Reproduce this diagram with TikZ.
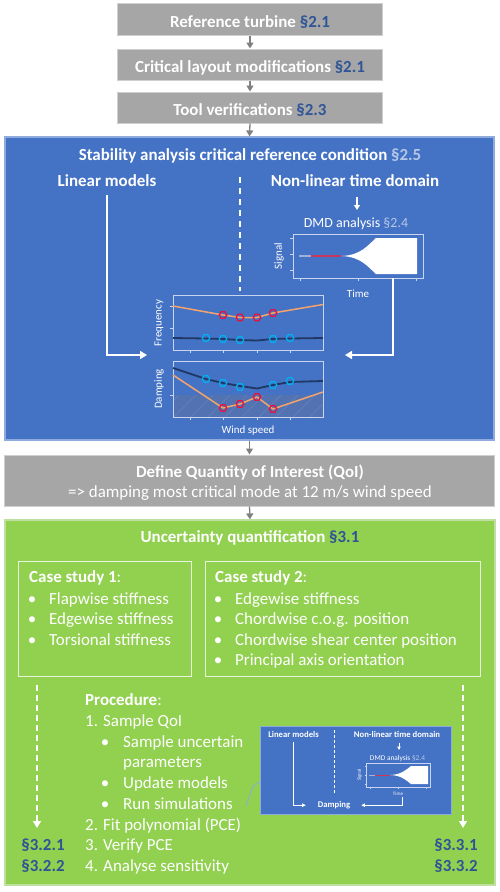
\documentclass[tikz,border=0pt]{standalone}
\usepackage{fontspec}
\setmainfont{Carlito}
\usetikzlibrary{arrows.meta,shapes.geometric}
\definecolor{gbox}{HTML}{A6A6A6}
\definecolor{gborder}{HTML}{CFCFCF}
\definecolor{bfill}{HTML}{4472C4}
\definecolor{bborder}{HTML}{8FAADC}
\definecolor{gnfill}{HTML}{92D050}
\definecolor{gnborder}{HTML}{BEDFA0}
\definecolor{csborder}{HTML}{E8F3DE}
\definecolor{refblue}{HTML}{2F5597}
\definecolor{reflight}{HTML}{B4C7E7}
\definecolor{arrgrey}{HTML}{808080}
\definecolor{orangeln}{HTML}{F4A46A}
\definecolor{navyln}{HTML}{1F3864}
\definecolor{cyanmk}{HTML}{00B0F0}
\definecolor{redmk}{HTML}{E8103C}
\definecolor{axisc}{HTML}{C9D5EE}
\definecolor{hatchfill}{HTML}{5272B2}
\definecolor{hatchln}{HTML}{6783BE}
\definecolor{sigred}{HTML}{C8385A}
\definecolor{sigflat}{HTML}{9DB1DA}
\newcommand\myfM{\fontsize{17}{20}\selectfont}
\newcommand\myfS{\fontsize{14}{16}\selectfont}
\newcommand\myfA{\fontsize{11}{13}\selectfont}
\newcommand\myfT{\fontsize{8.7}{10}\selectfont}
\newcommand\myfTT{\fontsize{7.4}{9}\selectfont}
\newcommand\myfTTT{\fontsize{5}{6}\selectfont}
\begin{document}
\begin{tikzpicture}[x=1bp,y=-1bp,
  greybox/.style={draw=gborder, fill=gbox, line width=1bp, inner sep=0},
  bluebox/.style={draw=bborder, fill=bfill, line width=1.2bp, inner sep=0},
  greenbox/.style={draw=gnborder, fill=gnfill, line width=1.2bp, inner sep=0},
  csbox/.style={draw=csborder, line width=1bp, inner sep=0},
  minibox/.style={draw=bborder, fill=bfill, line width=1bp, inner sep=0},
  pframe/.style={draw=axisc, line width=0.8bp, inner sep=0},
  lbl/.style={text=white, inner sep=0, font=\myfM},
  blbl/.style={text=white, inner sep=0, font=\myfM\bfseries},
  garr/.style={draw=arrgrey, line width=1.3bp, -{Triangle[width=7bp,length=6bp]}},
  warr/.style={draw=white, line width=1.5bp, -{Triangle[width=8bp,length=7bp]}},
  wdash/.style={draw=white, line width=1.5bp, dash pattern=on 6bp off 5bp},
  wdarr/.style={draw=white, line width=1.5bp, dash pattern=on 6bp off 4bp, -{Triangle[width=8bp,length=7bp]}},
  mwarr/.style={draw=white, line width=0.6bp, -{Triangle[width=3.5bp,length=3.5bp]}},
  hexr/.style={regular polygon, regular polygon sides=6, minimum size=7.5bp, inner sep=0, draw=redmk, line width=1.3bp},
  hexc/.style={regular polygon, regular polygon sides=6, minimum size=7.5bp, inner sep=0, draw=cyanmk, line width=1.3bp},
  tick/.style={draw=axisc, line width=0.8bp}
]
\useasboundingbox (0,0) rectangle (500,892);

% ---------- top grey boxes ----------
\node[greybox, minimum width=264bp, minimum height=31bp] (b1) at (250,19.5) {};
\node[greybox, minimum width=264bp, minimum height=31bp] (b2) at (250,64.5) {};
\node[greybox, minimum width=264bp, minimum height=31bp] (b3) at (250,107.5) {};
\node[blbl, anchor=base] (t1) at (250,27) {Reference turbine \textcolor{refblue}{§2.1}};
\node[blbl, anchor=base] (t2) at (250,72) {Critical layout modifications \textcolor{refblue}{§2.1}};
\node[blbl, anchor=base] (t3) at (250,115) {Tool verifications \textcolor{refblue}{§2.3}};

% ---------- blue region ----------
\node[bluebox, minimum width=489bp, minimum height=303bp] (blue) at (249.5,288.5) {};
\draw[garr] (b1.south) -- (b2.north);
\draw[garr] (b2.south) -- (b3.north);
\draw[garr] (b3.south) -- (blue.north);

\node[blbl, anchor=base] (stab) at (250,160) {Stability analysis critical reference condition \textcolor{reflight}{§2.5}};
\node[blbl, anchor=base] (lin) at (107,186) {Linear models};
\node[blbl, anchor=base] (nonlin) at (355,186) {Non-linear time domain};
\coordinate (dtop) at (240,177);
\coordinate (dbot) at (240,291);
\draw[wdash] (dtop) -- (dbot);
\node[lbl, anchor=base, font=\myfS] (dmd) at (356,227) {DMD analysis \textcolor{reflight}{§2.4}};
\draw[warr, line width=1.2bp, -{Triangle[width=6bp,length=5bp]}] (357,197) -- (357,210);

% signal plot
\node[pframe, minimum width=130bp, minimum height=44bp] (sig) at (358,256) {};
\foreach \yy in {238,254,270} \draw[tick] (293,\yy) -- (290,\yy);
\foreach \xx in {300,358,416} \draw[tick] (\xx,278) -- (\xx,281);
\fill[white] (341,256) .. controls (361,255.5) and (368,245) .. (376,238) -- (417,238) -- (417,274) -- (376,274) .. controls (368,267) and (361,256.5) .. (341,256) -- cycle;
\draw[sigflat, line width=1.2bp] (299,256) -- (311,256);
\draw[sigred, line width=1.5bp] (311,256) -- (341,256);
\node[lbl, font=\myfA, rotate=90] (siglab) at (279,256) {Signal};
\node[lbl, font=\myfA, anchor=base] (timelab) at (358,297) {Time};

% frequency plot
\node[pframe, minimum width=150bp, minimum height=55bp] (freq) at (248,322.5) {};
\foreach \yy in {306,328} \draw[tick] (173,\yy) -- (170,\yy);
\foreach \xx in {190,223,257,290} \draw[tick] (\xx,350) -- (\xx,353);
\draw[orangeln, line width=1.5bp] (173,306) -- (223,315) -- (240,317.5) -- (257,317.5) -- (273,313) -- (323,304.5);
\draw[navyln, line width=1.8bp] (173,338) -- (206,338.5) -- (223,339) -- (240,340) -- (257,340.5) -- (273,339) -- (290,338.5) -- (323,338);
\foreach \xx/\yy [count=\i] in {223/315,240/317.5,257/317.5,273/313} \node[hexr] (fr\i) at (\xx,\yy) {};
\foreach \xx/\yy [count=\i] in {206/338,223/339,240/340,273/339,290/338} \node[hexc] (fc\i) at (\xx,\yy) {};
\node[lbl, font=\myfA, rotate=90] (freqlab) at (159,323) {Frequency};

% damping plot
\begin{scope}
\clip (173,395) rectangle (323,417);
\fill[hatchfill] (173,395) rectangle (323,417);
\foreach \xx in {140,157,...,340} \draw[hatchln, line width=0.5bp] (\xx,417) -- (\xx+22,395);
\end{scope}
\node[pframe, minimum width=150bp, minimum height=56bp] (damp) at (248,389) {};
\foreach \yy in {395} \draw[tick] (173,\yy) -- (170,\yy);
\foreach \xx in {190,223,257,290} \draw[tick] (\xx,417) -- (\xx,420);
\draw[navyln, line width=1.8bp] (173,368) -- (206,379) -- (223,383) -- (240,386) -- (257,388.5) -- (273,385) -- (290,382) -- (323,381);
\draw[orangeln, line width=1.5bp] (173,375) -- (223,408) -- (240,404) -- (257,397) -- (273,409) -- (323,392);
\foreach \xx/\yy [count=\i] in {206/379,223/383,240/387,273/385,290/381} \node[hexc] (dc\i) at (\xx,\yy) {};
\foreach \xx/\yy [count=\i] in {223/408,240/404,257/397,273/409} \node[hexr] (dr\i) at (\xx,\yy) {};
\node[lbl, font=\myfA, rotate=90] (damplab) at (159,389) {Damping};
\node[lbl, font=\myfA, anchor=base] (windlab) at (248,433) {Wind speed};

% connectors into plots
\coordinate (linend) at (147,355);
\coordinate (nlend) at (345,355);
\draw[warr] ([yshift=-9bp]lin.south) |- (linend);
\draw[warr] ([xshift=35bp]sig.south) |- (nlend);

% ---------- QoI box ----------
\node[greybox, minimum width=489bp, minimum height=51bp] (qoi) at (249.5,480.5) {};
\draw[garr] (blue.south) -- (qoi.north);
\node[blbl, anchor=base] (qoit) at (250,477) {Define Quantity of Interest (QoI)};
\node[lbl, anchor=base] (qoid) at (250,497) {=> damping most critical mode at 12 m/s wind speed};

% ---------- green region ----------
\node[greenbox, minimum width=490bp, minimum height=365bp] (green) at (250,702.5) {};
\draw[garr] (qoi.south) -- (green.north);
\node[blbl, anchor=base] (uq) at (250,542) {Uncertainty quantification \textcolor{refblue}{§3.1}};

\node[csbox, minimum width=172bp, minimum height=115bp] (cs1) at (105,618.5) {};
\node[csbox, minimum width=275bp, minimum height=115bp] (cs2) at (342.5,618.5) {};
\node[lbl, anchor=base west] (cs1t) at (29,582.5) {\textbf{Case study 1}:};
\foreach \t [count=\i] in {Flapwise stiffness, Edgewise stiffness, Torsional stiffness} {
  \node[lbl, anchor=base] (cs1b\i) at (32,{583.4+20.6*\i}) {•};
  \node[lbl, anchor=base west] (cs1i\i) at (49,{583.4+20.6*\i}) {\t};
}
\node[lbl, anchor=base west] (cs2t) at (215,582.5) {\textbf{Case study 2}:};
\foreach \t [count=\i] in {Edgewise stiffness, Chordwise c.o.g. position, Chordwise shear center position, Principal axis orientation} {
  \node[lbl, anchor=base] (cs2b\i) at (218,{583.4+20.6*\i}) {•};
  \node[lbl, anchor=base west] (cs2i\i) at (235,{583.4+20.6*\i}) {\t};
}

% procedure
\node[lbl, anchor=base west] (proc) at (85,705) {\textbf{Procedure}:};
\node[lbl, anchor=base west] (p1n) at (85,726.5) {1.};
\node[lbl, anchor=base west] (p1) at (103,726.5) {Sample QoI};
\node[lbl, anchor=base] (p1b1) at (105,747) {•};
\node[lbl, anchor=base west] (p1s1) at (123,747) {Sample uncertain};
\node[lbl, anchor=base west] (p1s1b) at (123,767.5) {parameters};
\node[lbl, anchor=base] (p1b2) at (105,788.3) {•};
\node[lbl, anchor=base west] (p1s2) at (123,788.3) {Update models};
\node[lbl, anchor=base] (p1b3) at (105,809) {•};
\node[lbl, anchor=base west] (p1s3) at (123,809) {Run simulations};
\node[lbl, anchor=base west] (p2n) at (85,830) {2.};
\node[lbl, anchor=base west] (p2) at (103,830) {Fit polynomial (PCE)};
\node[lbl, anchor=base west] (p3n) at (85,850.7) {3.};
\node[lbl, anchor=base west] (p3) at (103,850.7) {Verify PCE};
\node[lbl, anchor=base west] (p4n) at (85,871.7) {4.};
\node[lbl, anchor=base west] (p4) at (103,871.7) {Analyse sensitivity};

% section refs and dashed arrows
\node[anchor=base, inner sep=0, text=refblue, font=\myfM\bfseries] (s321) at (43,850.7) {§3.2.1};
\node[anchor=base, inner sep=0, text=refblue, font=\myfM\bfseries] (s322) at (43,871.7) {§3.2.2};
\node[anchor=base, inner sep=0, text=refblue, font=\myfM\bfseries] (s331) at (456,850.7) {§3.3.1};
\node[anchor=base, inner sep=0, text=refblue, font=\myfM\bfseries] (s332) at (456,871.7) {§3.3.2};
\coordinate (l1a) at (37,685);
\coordinate (l1b) at (37,828);
\coordinate (l2a) at (463,685);
\coordinate (l2b) at (463,828);
\draw[wdarr] (l1a) -- (l1b);
\draw[wdarr] (l2a) -- (l2b);

% ---------- mini diagram ----------
\node[minibox, minimum width=191bp, minimum height=88bp] (mini) at (355.5,770) {};
\coordinate (cA) at (246,806);
\coordinate (cB) at (253,786);
\coordinate (cC) at (260,782);
\draw[bborder, line width=0.8bp] (cA) -- (cB) -- (cC);
\node[anchor=base, inner sep=0, text=white, font=\myfT\bfseries] (mlin) at (293.5,737) {Linear models};
\node[anchor=base, inner sep=0, text=white, font=\myfT\bfseries] (mnl) at (397,737) {Non-linear time domain};
\draw[white, line width=0.6bp, dash pattern=on 3bp off 2bp] (334,730) -- (334,795);
\node[anchor=base, inner sep=0, text=white, font=\myfTT] (mdmd) at (397.5,760.7) {DMD analysis \textcolor{reflight}{§2.4}};
\draw[mwarr] (399,742.5) -- (399,750);
\node[pframe, line width=0.5bp, minimum width=64bp, minimum height=24bp] (msig) at (398,775) {};
\foreach \yy in {766,775,784} \draw[tick, line width=0.5bp] (366,\yy) -- (364.5,\yy);
\foreach \xx in {370,398,426} \draw[tick, line width=0.5bp] (\xx,787) -- (\xx,788.5);
\fill[white] (390,775) .. controls (401,774.7) and (406,770) .. (411,766) -- (428,766) -- (428,784) -- (411,784) .. controls (406,780) and (401,775.3) .. (390,775) -- cycle;
\draw[sigflat, line width=0.6bp] (369,775) -- (375,775);
\draw[sigred, line width=0.8bp] (375,775) -- (390,775);
\node[inner sep=0, text=white, font=\myfTTT, rotate=90] (msiglab) at (359.5,775) {Signal};
\node[anchor=base, inner sep=0, text=white, font=\myfTTT] (mtime) at (398,795) {Time};
\node[anchor=base, inner sep=0, text=white, font=\myfT\bfseries] (mdamp) at (334,807.5) {Damping};
\draw[mwarr, shorten >=12bp] (293,742) |- (mdamp.west);
\draw[mwarr, shorten >=11bp] (402,797) |- (mdamp.east);

\end{tikzpicture}
\end{document}
